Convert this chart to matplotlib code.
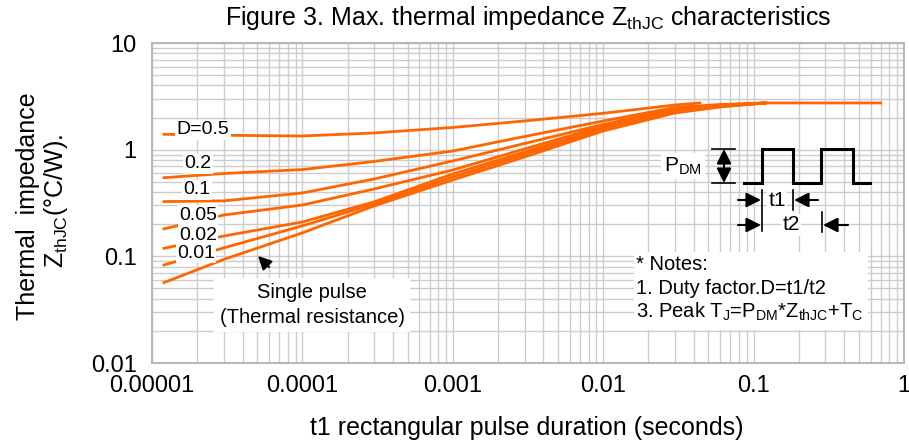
import matplotlib
matplotlib.use("Agg")
import matplotlib.pyplot as plt
from matplotlib.patches import Rectangle

plt.rcParams['font.family'] = ['Liberation Sans', 'DejaVu Sans']
plt.rcParams['mathtext.fontset'] = 'custom'
plt.rcParams['mathtext.rm'] = 'Liberation Sans'
plt.rcParams['mathtext.it'] = 'Liberation Sans:italic'

# pulse duration (s) and thermal impedance (C/W)
t_d05 = [1.2e-5, 3e-5, 1e-4, 3e-4, 1e-3, 3e-3, 1e-2, 3e-2, 4.4e-2]
z_d05 = [1.394, 1.364, 1.344, 1.434, 1.615, 1.858, 2.193, 2.624, 2.74]

t_duty = [1.2e-5, 3e-5, 1e-4, 3e-4, 1e-3, 3e-3, 1e-2, 3e-2, 6e-2, 0.12]
z_d02 = [0.546, 0.598, 0.651, 0.775, 0.972, 1.329, 1.858, 2.486, 2.653, 2.74]
z_d01 = [0.326, 0.331, 0.393, 0.531, 0.784, 1.143, 1.723, 2.407, 2.624, 2.74]
z_d005 = [0.181, 0.244, 0.303, 0.428, 0.645, 1.015, 1.668, 2.356, 2.596, 2.74]
z_d002 = [0.119, 0.155, 0.210, 0.324, 0.592, 0.952, 1.597, 2.305, 2.568, 2.74]
z_d001 = [0.083, 0.120, 0.193, 0.310, 0.555, 0.902, 1.547, 2.256, 2.541, 2.74]

t_single = [1.2e-5, 3e-5, 1e-4, 3e-4, 1e-3, 3e-3, 1e-2, 3e-2, 6e-2, 0.12, 0.7]
z_single = [0.0567, 0.0935, 0.166, 0.297, 0.52, 0.854, 1.497, 2.208, 2.513, 2.74, 2.74]

x_ticks = [1e-5, 1e-4, 1e-3, 1e-2, 1e-1, 1]
x_ticklabels = ['0.00001', '0.0001', '0.001', '0.01', '0.1', '1']
y_ticks = [0.01, 0.1, 1, 10]
y_ticklabels = ['0.01', '0.1', '1', '10']

curve_labels = ['D=0.5', '0.2', '0.1', '0.05', '0.02', '0.01']

ORANGE = '#ff6600'
W, H = 909, 446
AX_L, AX_R, AX_T, AX_B = 152, 904, 43, 363

fig = plt.figure(figsize=(W / 100, H / 100), dpi=100)
ax = fig.add_axes([AX_L / W, (H - AX_B) / H, (AX_R - AX_L) / W, (AX_B - AX_T) / H])


def pa(x, y):
    # figure pixel -> axes fraction
    return ((x - AX_L) / (AX_R - AX_L), (AX_B - y) / (AX_B - AX_T))


lw = 2.0
ax.plot(t_d05, z_d05, color=ORANGE, lw=lw, zorder=2)
for z in [z_d02, z_d01, z_d005, z_d002, z_d001]:
    ax.plot(t_duty, z, color=ORANGE, lw=lw, zorder=2)
ax.plot(t_single, z_single, color=ORANGE, lw=lw, zorder=2)

ax.set_xscale('log')
ax.set_yscale('log')
ax.set_xlim(1e-5, 1)
ax.set_ylim(0.01, 10)
ax.set_xticks(x_ticks, x_ticklabels)
ax.set_yticks(y_ticks, y_ticklabels)
ax.tick_params(which='both', length=0, labelsize=17)
ax.tick_params(axis='x', pad=9)
ax.tick_params(axis='y', pad=11)
ax.minorticks_on()
ax.tick_params(which='minor', labelbottom=False, labelleft=False)
ax.grid(True, which='both', color='#cccccc', lw=1.0, zorder=0)
ax.set_axisbelow(True)
for s in ax.spines.values():
    s.set_color('#b8b8b8')
    s.set_linewidth(1.5)

# curve labels
label_pos = [(203, 130), (198, 164), (197, 190), (198, 215), (198, 235), (196, 253)]
for txt, (px, py) in zip(curve_labels, label_pos):
    ax.text(*pa(px, py), txt, transform=ax.transAxes, ha='center', va='center',
            fontsize=14, zorder=4,
            bbox=dict(fc='white', ec='none', pad=1.0))

# single pulse note
ax.text(*pa(312, 305), 'Single pulse\n(Thermal resistance)', transform=ax.transAxes,
        ha='center', va='center', fontsize=14.5, linespacing=1.35, zorder=4,
        bbox=dict(fc='white', ec='none', pad=4))
ax.annotate('', xy=pa(256, 254), xytext=pa(271, 269), xycoords='axes fraction',
            textcoords='axes fraction',
            arrowprops=dict(arrowstyle='-|>', color='black', lw=1.5, mutation_scale=20),
            zorder=4)

# notes box
nx0, ny0 = pa(634, 330)
nx1, ny1 = pa(868, 252)
ax.add_patch(Rectangle((nx0, ny0), nx1 - nx0, ny1 - ny0, transform=ax.transAxes,
                       fc='white', ec='none', zorder=3))
notes = ['* Notes:', '1. Duty factor.D=t1/t2',
         r'3. Peak T$_{\mathregular{J}}$=P$_{\mathregular{DM}}$*Z$_{\mathregular{thJC}}$+T$_{\mathregular{C}}$']
for i, line in enumerate(notes):
    ax.text(*pa(636, 265 + 23.5 * i), line, transform=ax.transAxes, ha='left',
            va='center', fontsize=14.5, zorder=4)

# pulse diagram
k = dict(transform=ax.transAxes, color='black', clip_on=False, zorder=4)
wx = [744, 762, 762, 793, 793, 821, 821, 853, 853, 870]
wy = [183, 183, 149, 149, 183, 183, 149, 149, 183, 183]
pts = [pa(a, b) for a, b in zip(wx, wy)]
ax.plot([p[0] for p in pts], [p[1] for p in pts], lw=2.2, solid_joinstyle='miter', **k)
for yy in (149, 183):
    p0, p1 = pa(712, yy), pa(735, yy)
    ax.plot([p0[0], p1[0]], [p0[1], p1[1]], lw=1.2, **k)
for xx, y0, y1 in [(762, 190, 231), (793, 190, 210), (822, 212, 232)]:
    p0, p1 = pa(xx, y0), pa(xx, y1)
    ax.plot([p0[0], p1[0]], [p0[1], p1[1]], lw=1.2, **k)

ax.text(*pa(683, 166), r'P$_{\mathregular{DM}}$', transform=ax.transAxes, ha='center',
        va='center', fontsize=15, zorder=4, bbox=dict(fc='white', ec='none', pad=2))
ax.annotate('', xy=pa(724, 149), xytext=pa(724, 183), xycoords='axes fraction',
            textcoords='axes fraction',
            arrowprops=dict(arrowstyle='<|-|>', color='black', lw=1.5, mutation_scale=22,
                            shrinkA=0, shrinkB=0), zorder=4)

arrows = [((738, 200), (761, 200)), ((818, 200), (794, 200)),
          ((738, 225), (761, 225)), ((848, 225), (823, 225))]
for a, b in arrows:
    ax.annotate('', xy=pa(*b), xytext=pa(*a), xycoords='axes fraction',
                textcoords='axes fraction',
                arrowprops=dict(arrowstyle='-|>', color='black', lw=1.5,
                                mutation_scale=22, shrinkA=0, shrinkB=0), zorder=4)
ax.text(*pa(777, 200), 't1', transform=ax.transAxes, ha='center', va='center',
        fontsize=15, zorder=4, bbox=dict(fc='white', ec='none', pad=1))
ax.text(*pa(791, 225), 't2', transform=ax.transAxes, ha='center', va='center',
        fontsize=15, zorder=4, bbox=dict(fc='white', ec='none', pad=1))

# titles
fig.text(528 / W, 1 - 18 / H,
         r'Figure 3. Max. thermal impedance Z$_{\mathregular{thJC}}$ characteristics',
         ha='center', va='center', fontsize=18)
fig.text(527 / W, 1 - 428 / H, 't1 rectangular pulse duration (seconds)',
         ha='center', va='center', fontsize=18)
fig.text(28 / W, 1 - 206 / H, 'Thermal  impedance', rotation=90,
         ha='center', va='center', fontsize=18)
fig.text(56 / W, 1 - 201 / H, r'Z$_{\mathregular{thJC}}$(°C/W).', rotation=90,
         ha='center', va='center', fontsize=18)

fig.savefig('out.png', dpi=100)
